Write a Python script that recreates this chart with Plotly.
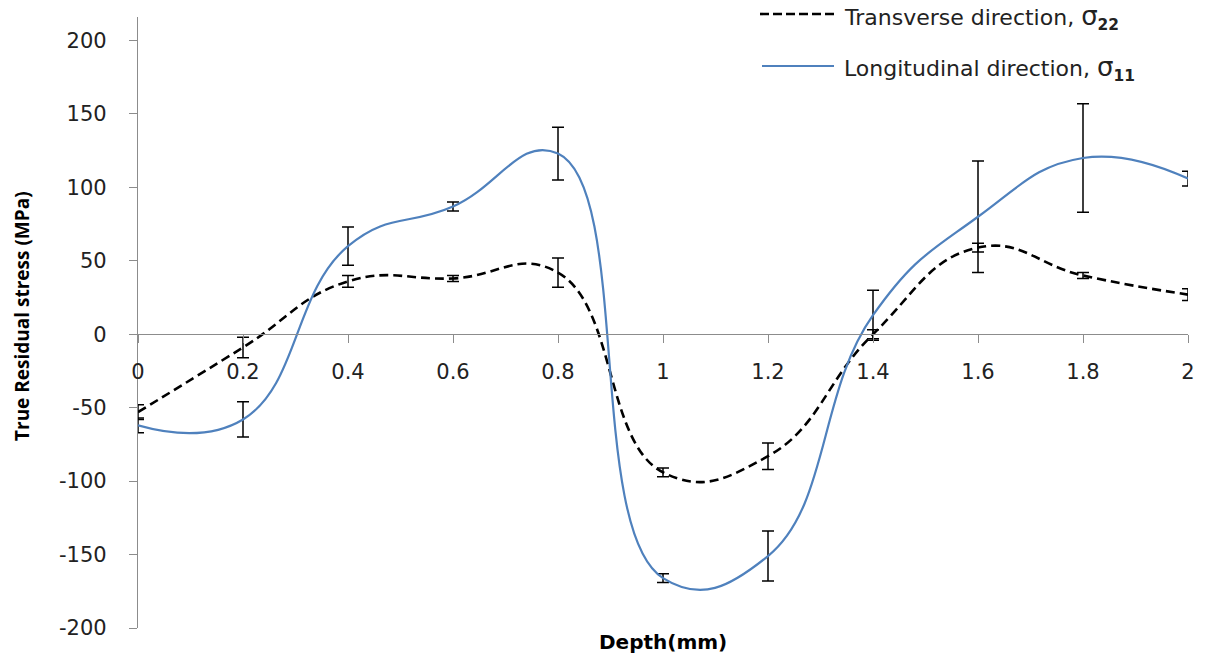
import plotly.graph_objects as go

depth = [0, 0.2, 0.4, 0.6, 0.8, 1.0, 1.2, 1.4, 1.6, 1.8, 2.0]
transverse = [-53, -9, 36, 38, 42, -94, -83, 0, 59, 40, 27]
transverse_err = [5, 7, 4, 2, 10, 3, 9, 3, 3, 2, 4]
longitudinal = [-62, -58, 60, 87, 123, -166, -151, 13, 80, 120, 106]
longitudinal_err = [5, 12, 13, 3, 18, 3, 17, 17, 38, 37, 5]

y_ticks = [-200, -150, -100, -50, 0, 50, 100, 150, 200]
x_ticks = [0, 0.2, 0.4, 0.6, 0.8, 1.0, 1.2, 1.4, 1.6, 1.8, 2.0]

BLUE = "#4F81BD"
Y_RANGE = [-200, 216]

fig = go.Figure()
fig.add_trace(go.Scatter(
    x=depth, y=transverse, mode="lines",
    line=dict(color="black", width=2.6, dash="9px,5px", shape="spline", smoothing=1.3),
    error_y=dict(type="data", array=transverse_err, color="black", thickness=1.5, width=6),
    showlegend=False, cliponaxis=False,
))
fig.add_trace(go.Scatter(
    x=depth, y=longitudinal, mode="lines",
    line=dict(color=BLUE, width=2.2, shape="spline", smoothing=1.3),
    error_y=dict(type="data", array=longitudinal_err, color="black", thickness=1.5, width=6),
    showlegend=False, cliponaxis=False,
))

W, H = 1208, 660
ml, mr, mt, mb = 138, 20, 17, 32
pw, ph = W - ml - mr, H - mt - mb

def px(x):
    return (x - ml) / pw

def py(y):
    return (H - mb - y) / ph

zero_pos = (0 - Y_RANGE[0]) / (Y_RANGE[1] - Y_RANGE[0])

fig.update_layout(
    width=W, height=H,
    margin=dict(l=ml, r=mr, t=mt, b=mb),
    paper_bgcolor="white", plot_bgcolor="white",
    xaxis=dict(
        range=[0, 2], tickvals=x_ticks, ticktext=[f"{v:g}" for v in x_ticks],
        showgrid=False, zeroline=False, showline=True, linecolor="#8c8c8c", linewidth=1.3,
        ticks="outside", ticklen=8, tickcolor="#8c8c8c", tickwidth=1.3,
        anchor="free", position=zero_pos, ticklabelstandoff=10,
        tickfont=dict(family="DejaVu Sans", size=21, color="#222"),
    ),
    yaxis=dict(
        range=Y_RANGE, tickvals=y_ticks, ticktext=[str(v) for v in y_ticks],
        showgrid=False, zeroline=False, showline=True, linecolor="#8c8c8c", linewidth=1.3,
        ticks="outside", ticklen=8, tickcolor="#8c8c8c", tickwidth=1.3,
        ticklabelstandoff=18,
        tickfont=dict(family="DejaVu Sans", size=21, color="#222"),
    ),
)

# axis titles
fig.add_annotation(text="Depth(mm)", xref="paper", yref="paper", x=px(663), y=py(642),
                   showarrow=False, xanchor="center", yanchor="middle",
                   font=dict(family="DejaVu Sans", size=20, color="black", weight="bold"))
fig.add_annotation(text="True Residual stress (MPa)", xref="paper", yref="paper", x=px(22), y=py(316),
                   showarrow=False, xanchor="center", yanchor="middle", textangle=-90,
                   font=dict(family="Open Sans", size=19, color="black", weight="bold"))

# legend
legend_font = dict(family="DejaVu Sans", size=22, color="#222")
sigma = '<span style="font-size:26px">σ</span><sub><b>{}</b></sub>'
fig.add_shape(type="line", xref="paper", yref="paper", x0=px(760), x1=px(838), y0=py(14), y1=py(14),
              line=dict(color="black", width=2.6, dash="9px,4px"))
fig.add_shape(type="line", xref="paper", yref="paper", x0=px(762), x1=px(834), y0=py(66), y1=py(66),
              line=dict(color=BLUE, width=2.2))
fig.add_annotation(text="Transverse direction, " + sigma.format("22"), xref="paper", yref="paper",
                   x=px(842), y=py(18), showarrow=False, xanchor="left", yanchor="middle", font=legend_font)
fig.add_annotation(text="Longitudinal direction, " + sigma.format("11"), xref="paper", yref="paper",
                   x=px(842), y=py(68), showarrow=False, xanchor="left", yanchor="middle", font=legend_font)

fig.write_html("out.html")
